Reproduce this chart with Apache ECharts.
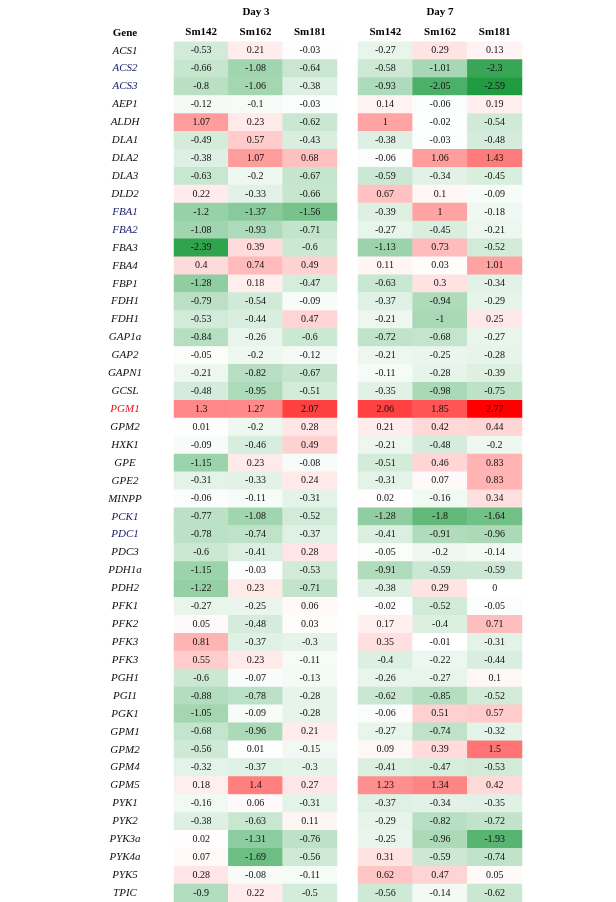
<!DOCTYPE html>
<html>
<head>
<meta charset="utf-8">
<script src="https://cdn.jsdelivr.net/npm/echarts@6/dist/echarts.min.js"></script>
<style>html,body{margin:0;padding:0;background:#fff;}#c{width:616px;height:902px;}</style>
</head>
<body>
<div id="c"></div>
<script>
const genes = ['ACS1','ACS2','ACS3','AEP1','ALDH','DLA1','DLA2','DLA3','DLD2','FBA1','FBA2','FBA3','FBA4','FBP1','FDH1','FDH1','GAP1a','GAP2','GAPN1','GCSL','PGM1','GPM2','HXK1','GPE','GPE2','MINPP','PCK1','PDC1','PDC3','PDH1a','PDH2','PFK1','PFK2','PFK3','PFK3','PGH1','PGI1','PGK1','GPM1','GPM2','GPM4','GPM5','PYK1','PYK2','PYK3a','PYK4a','PYK5','TPIC'];
const strains = ['Sm142','Sm162','Sm181'];
const days = ['Day 3','Day 7'];
const blueGenes = ['ACS2','ACS3','FBA1','FBA2','PCK1','PDC1'];
const redGenes = ['PGM1'];

const day3Sm142 = [-0.53,-0.66,-0.8,-0.12,1.07,-0.49,-0.38,-0.63,0.22,-1.2,-1.08,-2.39,0.4,-1.28,-0.79,-0.53,-0.84,-0.05,-0.21,-0.48,1.3,0.01,-0.09,-1.15,-0.31,-0.06,-0.77,-0.78,-0.6,-1.15,-1.22,-0.27,0.05,0.81,0.55,-0.6,-0.88,-1.05,-0.68,-0.56,-0.32,0.18,-0.16,-0.38,0.02,0.07,0.28,-0.9];
const day3Sm162 = [0.21,-1.08,-1.06,-0.1,0.23,0.57,1.07,-0.2,-0.33,-1.37,-0.93,0.39,0.74,0.18,-0.54,-0.44,-0.26,-0.2,-0.82,-0.95,1.27,-0.2,-0.46,0.23,-0.33,-0.11,-1.08,-0.74,-0.41,-0.03,0.23,-0.25,-0.48,-0.37,0.23,-0.07,-0.78,-0.09,-0.96,0.01,-0.37,1.4,0.06,-0.63,-1.31,-1.69,-0.08,0.22];
const day3Sm181 = [-0.03,-0.64,-0.38,-0.03,-0.62,-0.43,0.68,-0.67,-0.66,-1.56,-0.71,-0.6,0.49,-0.47,-0.09,0.47,-0.6,-0.12,-0.67,-0.51,2.07,0.28,0.49,-0.08,0.24,-0.31,-0.52,-0.37,0.28,-0.53,-0.71,0.06,0.03,-0.3,-0.11,-0.13,-0.28,-0.28,0.21,-0.15,-0.3,0.27,-0.31,0.11,-0.76,-0.56,-0.11,-0.5];
const day7Sm142 = [-0.27,-0.58,-0.93,0.14,1,-0.38,-0.06,-0.59,0.67,-0.39,-0.27,-1.13,0.11,-0.63,-0.37,-0.21,-0.72,-0.21,-0.11,-0.35,2.06,0.21,-0.21,-0.51,-0.31,0.02,-1.28,-0.41,-0.05,-0.91,-0.38,-0.02,0.17,0.35,-0.4,-0.26,-0.62,-0.06,-0.27,0.09,-0.41,1.23,-0.37,-0.29,-0.25,0.31,0.62,-0.56];
const day7Sm162 = [0.29,-1.01,-2.05,-0.06,-0.02,-0.03,1.06,-0.34,0.1,1,-0.45,0.73,0.03,0.3,-0.94,-1,-0.68,-0.25,-0.28,-0.98,1.85,0.42,-0.48,0.46,0.07,-0.16,-1.8,-0.91,-0.2,-0.59,0.29,-0.52,-0.4,-0.01,-0.22,-0.27,-0.85,0.51,-0.74,0.39,-0.47,1.34,-0.34,-0.82,-0.96,-0.59,0.47,-0.14];
const day7Sm181 = [0.13,-2.3,-2.59,0.19,-0.54,-0.48,1.43,-0.45,-0.09,-0.18,-0.21,-0.52,1.01,-0.34,-0.29,0.25,-0.27,-0.28,-0.39,-0.75,2.77,0.44,-0.2,0.83,0.83,0.34,-1.64,-0.96,-0.14,-0.59,0,-0.05,0.71,-0.31,-0.44,0.1,-0.52,0.57,-0.32,1.5,-0.53,0.42,-0.35,-0.72,-1.93,-0.74,0.05,-0.62];

function build(cols){
  const out = [];
  cols.forEach((col, xi) => col.forEach((v, yi) => out.push([xi, yi, v])));
  return out;
}
const d3 = build([day3Sm142, day3Sm162, day3Sm181]);
const d7 = build([day7Sm142, day7Sm162, day7Sm181]);

const SERIF = '"Liberation Serif","DejaVu Serif",serif';
const chart = echarts.init(document.getElementById('c'), null, {renderer:'canvas'});
const rowH = 18, gridTop = 41.7;
const gridH = rowH * genes.length;

const yAxisBase = {
  type:'category', data: genes, inverse:true,
  axisLine:{show:false}, axisTick:{show:false}, splitLine:{show:false}
};
const xAxisBase = {
  type:'category', data: strains, position:'top',
  axisLine:{show:false}, axisTick:{show:false}, splitLine:{show:false},
  axisLabel:{fontFamily:SERIF, fontWeight:'bold', fontSize:11, color:'#000', margin:4}
};
const labelStyle = {show:true, fontFamily:SERIF, fontSize:10, color:'#111',
  formatter: p => String(p.value[2])};

chart.setOption({
  animation:false,
  backgroundColor:'#fff',
  grid:[
    {left:174, top:gridTop, width:163, height:gridH},
    {left:358, top:gridTop, width:164, height:gridH}
  ],
  xAxis:[
    Object.assign({gridIndex:0}, xAxisBase),
    Object.assign({gridIndex:1}, xAxisBase)
  ],
  yAxis:[
    Object.assign({gridIndex:0}, yAxisBase, {axisLabel:{
      margin:49, align:'center', fontFamily:SERIF, fontStyle:'italic', fontSize:11,
      formatter:(v)=> redGenes.includes(v) ? '{r|'+v+'}' : (blueGenes.includes(v) ? '{b|'+v+'}' : '{k|'+v+'}'),
      rich:{
        r:{color:'#e8141c', fontFamily:SERIF, fontStyle:'italic', fontSize:11},
        b:{color:'#1f2270', fontFamily:SERIF, fontStyle:'italic', fontSize:11},
        k:{color:'#111', fontFamily:SERIF, fontStyle:'italic', fontSize:11}
      }
    }}),
    Object.assign({gridIndex:1}, yAxisBase, {axisLabel:{show:false}})
  ],
  visualMap:{
    show:false, min:-2.77, max:2.77, calculable:false, seriesIndex:[0,1],
    inRange:{color:['#0f9433','#ffffff','#ff0000']}
  },
  graphic:[
    {type:'text', x:125, y:33, style:{text:'Gene', font:'bold 11px '+SERIF, fill:'#000', textAlign:'center', textVerticalAlign:'middle'}},
    {type:'text', x:256, y:12, style:{text:days[0], font:'bold 11px '+SERIF, fill:'#000', textAlign:'center', textVerticalAlign:'middle'}},
    {type:'text', x:440, y:12, style:{text:days[1], font:'bold 11px '+SERIF, fill:'#000', textAlign:'center', textVerticalAlign:'middle'}}
  ],
  series:[
    {type:'heatmap', xAxisIndex:0, yAxisIndex:0, data:d3, label:labelStyle, itemStyle:{borderWidth:0}, emphasis:{disabled:true}},
    {type:'heatmap', xAxisIndex:1, yAxisIndex:1, data:d7, label:labelStyle, itemStyle:{borderWidth:0}, emphasis:{disabled:true}}
  ]
});
</script>
</body>
</html>
